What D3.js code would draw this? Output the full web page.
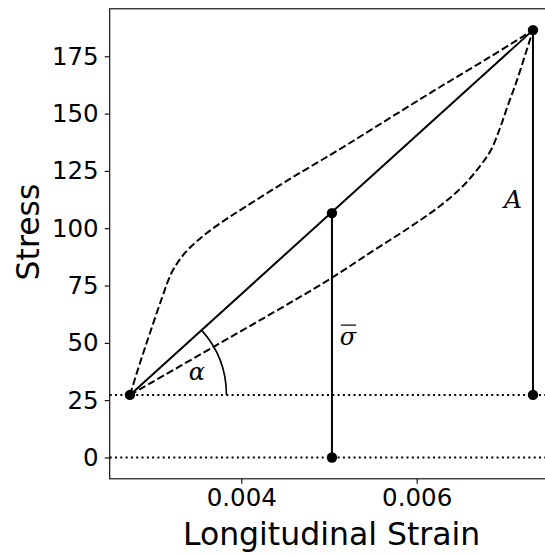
<!DOCTYPE html>
<html>
<head>
<meta charset="utf-8">
<script src="https://cdn.jsdelivr.net/npm/d3@7"></script>
<style>
body{margin:0;background:#fff;}
</style>
</head>
<body>
<div id="canvas"></div>
<script>
// loading branch (upper dashed curve)
var upperStrain = [0.002731, 0.002845, 0.002959, 0.003096, 0.003210, 0.003358, 0.003552, 0.003780, 0.004042, 0.004555, 0.005125, 0.005696, 0.006266, 0.006836, 0.007326];
var upperStress = [27.3, 41.2, 54.3, 69.6, 80.9, 89.2, 96.2, 102.7, 109.2, 121.5, 134.5, 148.1, 161.6, 174.7, 186.4];
// unloading branch (lower dashed curve)
var lowerStrain = [0.002731, 0.003700, 0.004954, 0.005502, 0.005924, 0.006266, 0.006528, 0.006722, 0.006847, 0.006950, 0.007041, 0.007144, 0.007326];
var lowerStress = [27.3, 48.6, 76.5, 90.1, 100.5, 109.7, 118.4, 127.1, 134.1, 143.7, 153.7, 164.6, 186.4];

var minStrain = 0.002731, maxStrain = 0.007326;
var minStress = 27.3, maxStress = 186.4;
var meanStrain = 0.005034, meanStress = 106.6;

var xTicks = [0.004, 0.006];
var yTicks = [0, 25, 50, 75, 100, 125, 150, 175];

var canvasWidth = 545, canvasHeight = 556;
var margin = {t:8.8, l:109.7};
var plotWidth = 443.8, plotHeight = 470;

var svg = d3.select('#canvas')
    .append('svg')
    .attr('width', canvasWidth)
    .attr('height', canvasHeight);

var plot = svg.append('g')
    .attr('transform', 'translate('+margin.l+','+margin.t+')');

var x = d3.scaleLinear().domain([0.0025, 0.00756]).range([0, plotWidth]);
var y = d3.scaleLinear().domain([-9.3, 195.7]).range([plotHeight, 0]);

// dotted reference lines
[minStress, 0].forEach(function(v){
    plot.append('line')
        .attr('x1', 0).attr('x2', plotWidth)
        .attr('y1', y(v)).attr('y2', y(v))
        .style('stroke', '#000')
        .style('stroke-width', 2)
        .style('stroke-dasharray', '2,3.3');
});

var line = d3.line()
    .x(function(d){ return x(d[0]); })
    .y(function(d){ return y(d[1]); })
    .curve(d3.curveCatmullRom.alpha(0.5));

plot.append('path')
    .datum(d3.zip(upperStrain, upperStress))
    .attr('d', line)
    .style('fill', 'none')
    .style('stroke', '#000')
    .style('stroke-width', 2)
    .style('stroke-dasharray', '7.4,3.2');

plot.append('path')
    .datum(d3.zip(lowerStrain, lowerStress))
    .attr('d', line)
    .style('fill', 'none')
    .style('stroke', '#000')
    .style('stroke-width', 2)
    .style('stroke-dasharray', '7.4,3.2');

// secant line
plot.append('line')
    .attr('x1', x(minStrain)).attr('y1', y(minStress))
    .attr('x2', x(maxStrain)).attr('y2', y(maxStress))
    .style('stroke', '#000')
    .style('stroke-width', 2);

// vertical lines
plot.append('line')
    .attr('x1', x(meanStrain)).attr('x2', x(meanStrain))
    .attr('y1', y(0)).attr('y2', y(meanStress))
    .style('stroke', '#000')
    .style('stroke-width', 2);
plot.append('line')
    .attr('x1', x(maxStrain)).attr('x2', x(maxStrain))
    .attr('y1', y(minStress)).attr('y2', y(maxStress))
    .style('stroke', '#000')
    .style('stroke-width', 2);

// angle arc
var arcR = x(0.0036) - x(0.0025);
var ang = Math.atan2(y(minStress) - y(maxStress), x(maxStrain) - x(minStrain));
var cx0 = x(minStrain), cy0 = y(minStress);
plot.append('path')
    .attr('d', 'M' + (cx0 + arcR) + ',' + cy0 + ' A' + arcR + ',' + arcR + ' 0 0 0 ' +
        (cx0 + arcR*Math.cos(ang)) + ',' + (cy0 - arcR*Math.sin(ang)))
    .style('fill', 'none')
    .style('stroke', '#000')
    .style('stroke-width', 1.6);

// points
var pts = [[minStrain, minStress], [maxStrain, maxStress], [meanStrain, meanStress], [meanStrain, 0], [maxStrain, minStress]];
plot.selectAll('circle.pt')
    .data(pts)
    .enter().append('circle')
    .attr('class', 'pt')
    .attr('cx', function(d){ return x(d[0]); })
    .attr('cy', function(d){ return y(d[1]); })
    .attr('r', 5.2)
    .style('fill', '#000');

// annotations
var serif = '"DejaVu Serif", "Liberation Serif", serif';
plot.append('text')
    .attr('x', x(0.003495)).attr('y', y(37.3))
    .attr('text-anchor', 'middle').attr('dominant-baseline', 'central')
    .style('font-family', serif).style('font-style', 'italic').style('font-size', '24px')
    .text('α');
var sx = x(0.005217), sy = y(52.5);
plot.append('text')
    .attr('x', sx).attr('y', sy)
    .attr('text-anchor', 'middle').attr('dominant-baseline', 'central')
    .style('font-family', serif).style('font-style', 'italic').style('font-size', '24px')
    .text('σ');
plot.append('line')
    .attr('x1', sx - 7).attr('x2', sx + 8)
    .attr('y1', sy - 12).attr('y2', sy - 12)
    .style('stroke', '#000').style('stroke-width', 1.2);
plot.append('text')
    .attr('x', x(0.0071)).attr('y', y(112.7))
    .attr('text-anchor', 'middle').attr('dominant-baseline', 'central')
    .style('font-family', serif).style('font-style', 'italic').style('font-size', '25px')
    .text('A');

// frame
plot.append('rect')
    .attr('width', plotWidth).attr('height', plotHeight)
    .style('fill', 'none').style('stroke', '#000').style('stroke-width', 1.1);

// axes
var xAxis = plot.append('g')
    .attr('transform', 'translate(0,' + plotHeight + ')')
    .call(d3.axisBottom(x).tickValues(xTicks).tickFormat(d3.format('.3f')).tickSizeOuter(0).tickSize(5).tickPadding(5));
var yAxis = plot.append('g')
    .call(d3.axisLeft(y).tickValues(yTicks).tickSizeOuter(0).tickSize(5).tickPadding(6));
[xAxis, yAxis].forEach(function(a){
    a.select('.domain').remove();
    a.selectAll('text').style('font-family', '"DejaVu Sans", sans-serif').style('font-size', '24.5px').style('fill', '#000');
    a.selectAll('line').style('stroke', '#000').style('stroke-width', 1.1);
});

svg.append('text')
    .attr('x', margin.l + plotWidth/2).attr('y', 545)
    .attr('text-anchor', 'middle')
    .style('font-family', '"DejaVu Sans", sans-serif').style('font-size', '31.5px')
    .text('Longitudinal Strain');
svg.append('text')
    .attr('transform', 'translate(39,' + 232 + ') rotate(-90)')
    .attr('text-anchor', 'middle')
    .style('font-family', '"DejaVu Sans", sans-serif').style('font-size', '31.5px')
    .text('Stress');
</script>
</body>
</html>
